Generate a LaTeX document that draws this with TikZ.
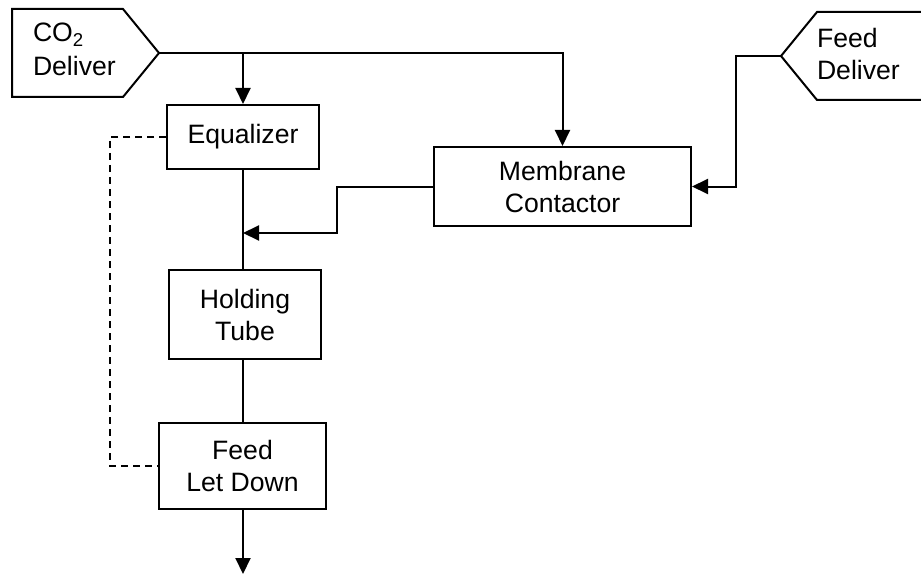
\documentclass[tikz,border=0pt]{standalone}
\usepackage{fontspec}
\setmainfont{Liberation Sans}
\usetikzlibrary{arrows.meta}
\begin{document}
\begin{tikzpicture}[x=1pt,y=-1pt,
  line width=2pt,
  txt/.style={font=\fontsize{26.6}{32}\selectfont, align=center, inner sep=0pt},
  box/.style={draw, txt, rectangle, line join=miter},
  arr/.style={-{Triangle[length=16pt,width=15pt]}},
  dsh/.style={line width=1.5pt, dash pattern=on 7pt off 5pt}]
\useasboundingbox (0,0) rectangle (921,575);
% process boxes
\node[box, minimum width=152pt, minimum height=64pt] (eq) at (243,137) {Equalizer};
\node[box, minimum width=257pt, minimum height=79pt] (mem) at (562.5,186.5) {Membrane\\Contactor};
\node[box, minimum width=152pt, minimum height=89pt] (hold) at (245,314.5) {Holding\\Tube};
\node[box, minimum width=167pt, minimum height=86pt] (fld) at (242.5,466) {Feed\\Let Down};
% off-page connectors
\draw[line join=miter] (12,9) -- (123,9) -- (159,53) -- (123,97) -- (12,97) -- cycle;
\coordinate (co2tip) at (159,53);
\node[txt, align=left, anchor=north west] (co2) at (32,22) {CO\textsubscript{2}\\[2pt]Deliver};
\draw[line join=miter] (935,12) -- (817,12) -- (781,56) -- (817,100) -- (935,100);
\coordinate (feedtip) at (781,56);
\node[txt, align=left, anchor=north west] (feed) at (816,27) {Feed\\Deliver};
\coordinate (out) at (243,574);
\coordinate (jn) at (243,233);
% connectors
\draw[arr] (co2tip) -| (mem.north);
\draw[arr] (co2tip -| eq.north) -- (eq.north);
\draw[arr] (feedtip) -- ++(-45,0) |- (mem.east);
\draw[arr] (mem.west) -- ++(-96,0) |- (jn);
\draw (eq.south) -- (eq.south |- hold.north);
\draw (hold.south -| eq.south) -- (eq.south |- fld.north);
\draw[arr] (fld.south -| eq.south) -- (out);
\draw[dsh] (eq.west) -- ++(-56,0) |- (fld.west);
\end{tikzpicture}
\end{document}
